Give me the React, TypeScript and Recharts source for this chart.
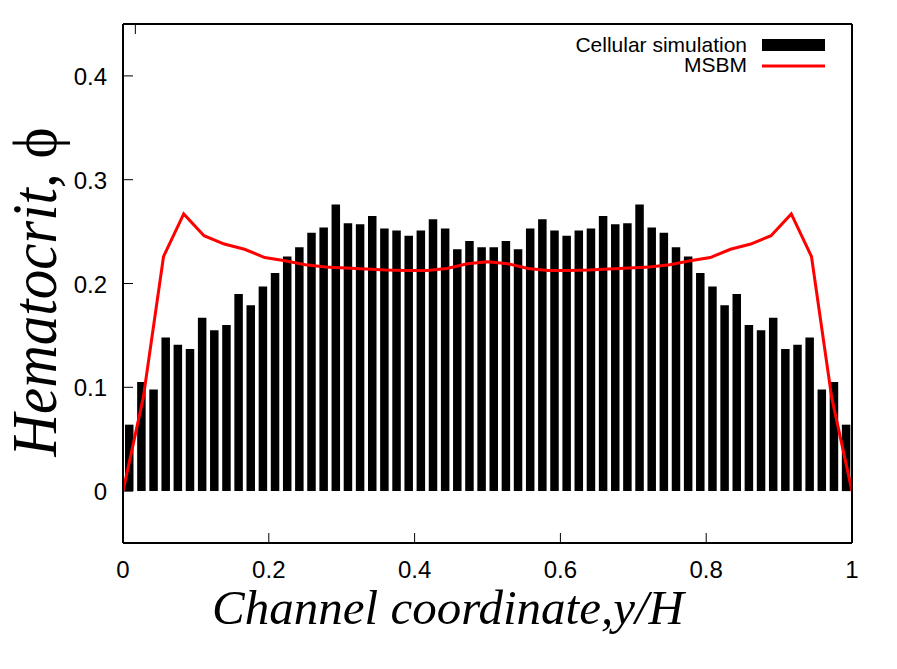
import { Bar, ComposedChart, Line, XAxis, YAxis } from 'recharts';

// cellular simulation histogram, 60 bins across the channel
const cellular = [
    0.064, 0.105, 0.098, 0.148, 0.141, 0.137, 0.167, 0.155, 0.160, 0.190,
    0.179, 0.197, 0.210, 0.226, 0.235, 0.249, 0.254, 0.276, 0.258, 0.257,
    0.265, 0.253, 0.251, 0.246, 0.251, 0.262, 0.253, 0.233, 0.241, 0.235,
    0.235, 0.241, 0.233, 0.253, 0.262, 0.251, 0.246, 0.251, 0.253, 0.265,
    0.257, 0.258, 0.276, 0.254, 0.249, 0.235, 0.226, 0.210, 0.197, 0.179,
    0.190, 0.160, 0.155, 0.167, 0.137, 0.141, 0.148, 0.098, 0.105, 0.064,
];

// MSBM profile
const msbmY = [
    0, 0.0278, 0.0556, 0.0833, 0.1111, 0.1389, 0.1667, 0.1944, 0.2222, 0.25,
    0.2778, 0.3056, 0.3333, 0.3611, 0.3889, 0.4167, 0.4444, 0.4722, 0.5,
    0.5278, 0.5556, 0.5833, 0.6111, 0.6389, 0.6667, 0.6944, 0.7222, 0.75,
    0.7778, 0.8056, 0.8333, 0.8611, 0.8889, 0.9167, 0.9444, 0.9722, 1,
];
const msbmPhi = [
    0, 0.09, 0.226, 0.267, 0.246, 0.238, 0.233, 0.225, 0.222, 0.218,
    0.216, 0.215, 0.214, 0.213, 0.2125, 0.2125, 0.2145, 0.219, 0.221,
    0.219, 0.2145, 0.2125, 0.2125, 0.213, 0.214, 0.215, 0.216, 0.218,
    0.222, 0.225, 0.233, 0.238, 0.246, 0.267, 0.226, 0.09, 0,
];

const xTicks = [0, 0.2, 0.4, 0.6, 0.8, 1];
const yTicks = [0, 0.1, 0.2, 0.3, 0.4];

const barRows = cellular.map((phi, i) => ({ bin: i + 1, phi }));
const lineRows = msbmY.map((x, i) => ({ x, phi: msbmPhi[i] }));

const tickFont = { fontFamily: '"Liberation Sans", Arial, sans-serif', fontSize: 24, fill: '#000' };
const labelFont = { fontFamily: '"Liberation Serif", "Times New Roman", serif', fontStyle: 'italic', fill: '#000' };

const BottomTick = ({ x, y, payload }: any) => (
    <g>
        <line x1={x} x2={x} y1={y} y2={y - 10} stroke="#000" />
        <text x={x} y={y + 35} textAnchor="middle" {...tickFont}>{String(payload.value)}</text>
    </g>
);

const TopTick = ({ x, y }: any) => <line x1={x} x2={x} y1={y} y2={y + 10} stroke="#000" />;

const LeftTick = ({ x, y, payload }: any) => (
    <g>
        <line x1={x} x2={x + 10} y1={y} y2={y} stroke="#000" />
        <text x={x - 16} y={y + 9} textAnchor="end" {...tickFont}>{String(payload.value)}</text>
    </g>
);

const RightTick = ({ x, y }: any) => <line x1={x} x2={x - 10} y1={y} y2={y} stroke="#000" />;

const axisLine = { stroke: '#000', strokeWidth: 2 };

export default function App() {
    return (
        <div style={{ position: 'absolute', left: 0, top: 0, width: 897, height: 669, background: '#fff' }}>
            <ComposedChart width={897} height={669} data={barRows} margin={{ top: 0, right: 0, bottom: 0, left: 0 }}>
                <XAxis
                    xAxisId="bottom"
                    dataKey="x"
                    type="number"
                    domain={[0, 1]}
                    ticks={xTicks}
                    height={126}
                    tickSize={0}
                    tickMargin={0}
                    tickLine={false}
                    axisLine={axisLine}
                    tick={<BottomTick />}
                    allowDataOverflow
                    label={{
                        content: () => (
                            <text x={448} y={624} textAnchor="middle" fontSize={49} {...labelFont}>
                                Channel coordinate,y/H
                            </text>
                        ),
                    }}
                />
                <XAxis xAxisId="bins" dataKey="bin" type="category" height={0} hide />
                <XAxis
                    xAxisId="top"
                    orientation="top"
                    type="number"
                    domain={[0, 1]}
                    ticks={xTicks}
                    height={24}
                    tickSize={0}
                    tickMargin={0}
                    tickLine={false}
                    axisLine={axisLine}
                    tick={<TopTick />}
                />
                <YAxis
                    yAxisId="left"
                    type="number"
                    domain={[-0.05, 0.45]}
                    ticks={yTicks}
                    width={123}
                    tickSize={0}
                    tickMargin={0}
                    tickLine={false}
                    axisLine={axisLine}
                    tick={<LeftTick />}
                    allowDataOverflow
                    label={{
                        content: () => (
                            <text
                                transform="translate(56, 292) rotate(-90)"
                                textAnchor="middle"
                                fontSize={64}
                                textLength={329}
                                lengthAdjust="spacingAndGlyphs"
                                {...labelFont}
                            >
                                Hematocrit, <tspan fontStyle="normal">ϕ</tspan>
                            </text>
                        ),
                    }}
                />
                <YAxis
                    yAxisId="right"
                    orientation="right"
                    type="number"
                    domain={[-0.05, 0.45]}
                    ticks={yTicks}
                    width={45}
                    tickSize={0}
                    tickMargin={0}
                    tickLine={false}
                    axisLine={axisLine}
                    tick={<RightTick />}
                />
                <Bar xAxisId="bins" yAxisId="left" dataKey="phi" fill="#000" barSize={8.5} isAnimationActive={false} />
                <Line
                    xAxisId="bottom"
                    yAxisId="left"
                    data={lineRows}
                    dataKey="phi"
                    type="linear"
                    stroke="#ff0000"
                    strokeWidth={3}
                    dot={false}
                    activeDot={false}
                    isAnimationActive={false}
                />
            </ComposedChart>
            <svg width={897} height={669} style={{ position: 'absolute', left: 0, top: 0, pointerEvents: 'none' }}>
                <text x={747} y={52} textAnchor="end" {...tickFont} fontSize={21}>Cellular simulation</text>
                <rect x={762} y={39} width={63} height={12} fill="#000" />
                <text x={747} y={72} textAnchor="end" {...tickFont} fontSize={21}>MSBM</text>
                <line x1={762} x2={825} y1={66} y2={66} stroke="#ff0000" strokeWidth={3} />
            </svg>
        </div>
    );
}
